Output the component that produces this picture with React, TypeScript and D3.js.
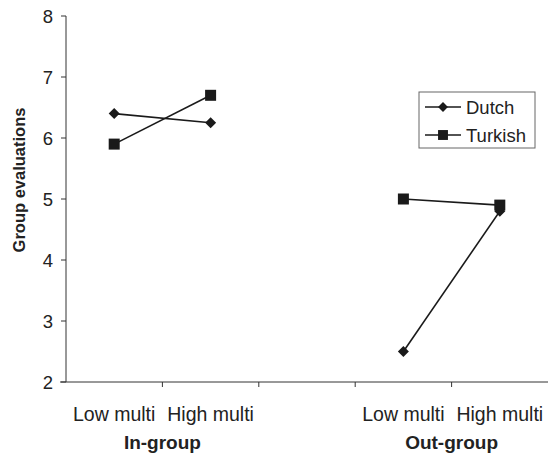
import * as d3 from 'd3';

const categories = ['in-low', 'in-high', 'gap', 'out-low', 'out-high'];
const categoryLabels = ['Low multi', 'High multi', '', 'Low multi', 'High multi'];
const groups = [
  { label: 'In-group', keys: ['in-low', 'in-high'] },
  { label: 'Out-group', keys: ['out-low', 'out-high'] },
];
const yTicks = [2, 3, 4, 5, 6, 7, 8];

const dutchIn = [6.4, 6.25];
const dutchOut = [2.5, 4.8];
const turkishIn = [5.9, 6.7];
const turkishOut = [5.0, 4.9];

const width = 548;
const height = 457;
const marginLeft = 66;
const marginRight = 0;
const marginTop = 16;
const marginBottom = 75;

const font = 'Liberation Sans, Arial, sans-serif';

const App = () => {
  const xScale = d3.scaleBand(categories, [marginLeft, width - marginRight]).padding(0);
  const yScale = d3.scaleLinear([2, 8], [height - marginBottom, marginTop]);
  const cx = (k: string) => (xScale(k) ?? 0) + xScale.bandwidth() / 2;
  const line = d3
    .line<[string, number]>()
    .x((d) => cx(d[0]))
    .y((d) => yScale(d[1]));

  const series = [
    { name: 'Dutch', shape: 'diamond', parts: [dutchIn, dutchOut] },
    { name: 'Turkish', shape: 'square', parts: [turkishIn, turkishOut] },
  ];

  const marker = (shape: string, x: number, y: number, key: string, s = 1) =>
    shape === 'square' ? (
      <rect key={key} x={x - 5.5 * s} y={y - 5.5 * s} width={11 * s} height={11 * s} fill="#1a1a1a" />
    ) : (
      <path
        key={key}
        d={`M${x},${y - 5.5 * s}L${x + 5.5 * s},${y}L${x},${y + 5.5 * s}L${x - 5.5 * s},${y}Z`}
        fill="#1a1a1a"
      />
    );

  const y0 = yScale(2);

  return (
    <svg
      width={width}
      height={height}
      viewBox={`0 0 ${width} ${height}`}
      style={{ position: 'absolute', left: 0, top: 0, background: '#fff' }}
      fontFamily={font}
    >
      {/* y axis */}
      <line x1={marginLeft} x2={marginLeft} y1={marginTop} y2={y0} stroke="#333" strokeWidth={1} />
      {yTicks.map((t) => (
        <g key={t}>
          <line x1={marginLeft - 5} x2={marginLeft} y1={yScale(t)} y2={yScale(t)} stroke="#333" />
          <text x={marginLeft - 13} y={yScale(t)} dy="0.36em" textAnchor="end" fontSize={18.5} fill="#222">
            {t}
          </text>
        </g>
      ))}
      <text
        transform={`translate(25,${(marginTop + y0) / 2 - 19}) rotate(-90)`}
        textAnchor="middle"
        fontSize={16.5}
        fontWeight="bold"
        fill="#222"
      >
        Group evaluations
      </text>

      {/* x axis */}
      <line x1={marginLeft - 6} x2={width} y1={y0} y2={y0} stroke="#333" />
      {categories.slice(1).map((c) => (
        <line key={c} x1={xScale(c)} x2={xScale(c)} y1={y0} y2={y0 + 5} stroke="#333" />
      ))}
      {categories.map((c, i) => (
        <text key={c} x={cx(c)} y={y0 + 39} textAnchor="middle" fontSize={19.5} fill="#222">
          {categoryLabels[i]}
        </text>
      ))}
      {groups.map((g) => (
        <text
          key={g.label}
          x={(cx(g.keys[0]) + cx(g.keys[1])) / 2}
          y={y0 + 67}
          textAnchor="middle"
          fontSize={19}
          fontWeight="bold"
          fill="#222"
        >
          {g.label}
        </text>
      ))}

      {/* series */}
      {series.map((s) =>
        s.parts.map((vals, gi) => {
          const pts: [string, number][] = vals.map((v, i) => [groups[gi].keys[i], v]);
          return (
            <g key={s.name + gi}>
              <path d={line(pts) ?? ''} fill="none" stroke="#1a1a1a" strokeWidth={1.6} />
              {pts.map((p, i) => marker(s.shape, cx(p[0]), yScale(p[1]), `${s.name}${gi}${i}`))}
            </g>
          );
        }),
      )}

      {/* legend */}
      <g transform="translate(419,92)">
        <rect x={0} y={0} width={116} height={56} fill="#fff" stroke="#666" strokeWidth={1} />
        {series.map((s, i) => (
          <g key={s.name} transform={`translate(0,${15 + i * 28})`}>
            <line x1={6} x2={42} y1={0} y2={0} stroke="#1a1a1a" strokeWidth={1.6} />
            {marker(s.shape, 24, 0, 'lg' + s.name, 0.9)}
            <text x={47} y={0} dy="0.36em" fontSize={18.5} fill="#222">
              {s.name}
            </text>
          </g>
        ))}
      </g>
    </svg>
  );
};

export default App;
